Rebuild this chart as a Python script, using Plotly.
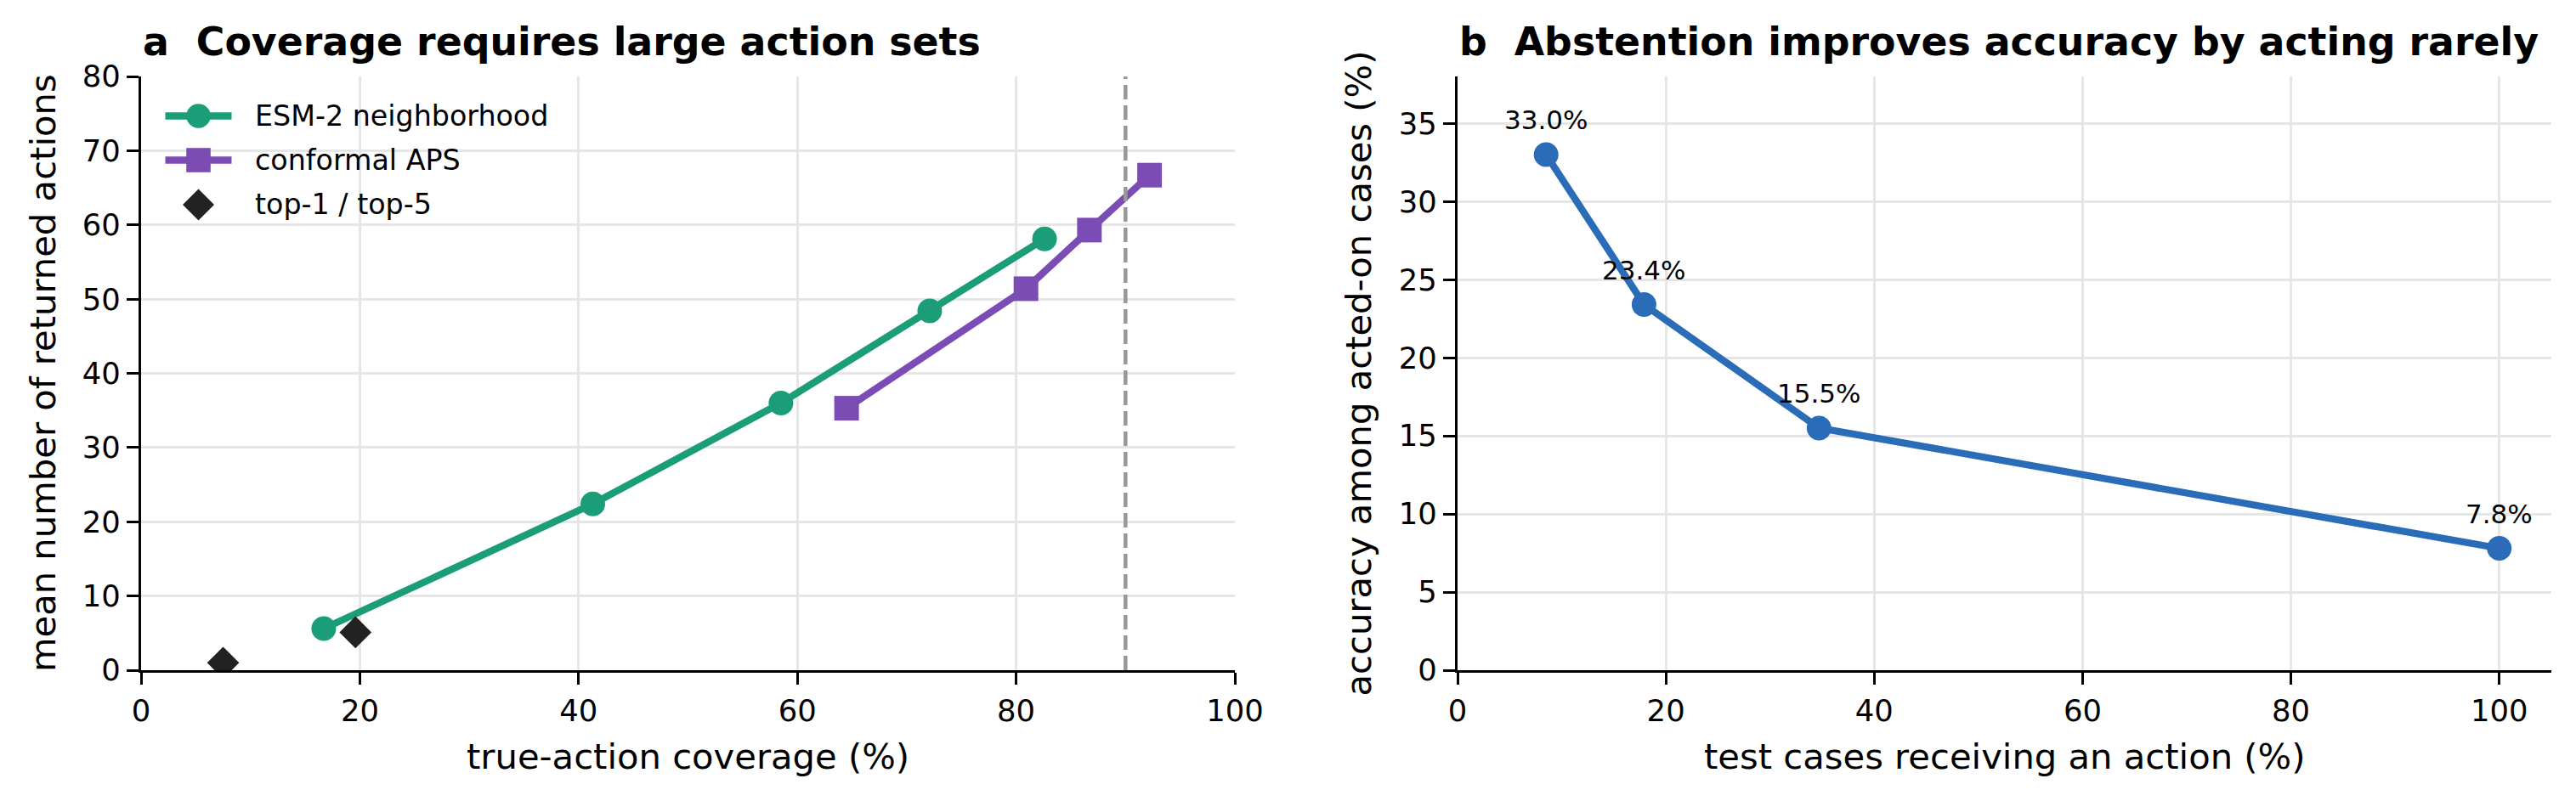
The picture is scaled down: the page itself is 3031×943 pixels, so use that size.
import plotly.graph_objects as go

# ---------------- data ----------------
esm_cov = [16.7, 41.3, 58.5, 72.1, 82.6]
esm_size = [5.6, 22.4, 36.0, 48.4, 58.1]
aps_cov = [64.5, 80.9, 86.7, 92.2]
aps_size = [35.3, 51.4, 59.3, 66.7]
topk_cov = [7.5, 19.6]
topk_size = [1.0, 5.1]
target_coverage = 90

acted_pct = [8.5, 17.9, 34.7, 100.0]
acted_acc = [33.0, 23.4, 15.5, 7.8]
acc_labels = [f"{v:.1f}%" for v in acted_acc]

series_names = ["ESM-2 neighborhood", "conformal APS", "top-1 / top-5"]

# ---------------- style ----------------
W, H = 3031, 943
FONT = "DejaVu Sans"
GREEN = "#1b9e77"
PURPLE = "#7b4db4"
BLUE = "#2b6cb8"
DARK = "#222222"
GRID = "#e6e6e6"
LW = 8.3
MS = 29

L1, R1 = 166 / W, 1453 / W
L2, R2 = 1715 / W, 3002 / W
B, T = 1 - 789 / H, 1 - 90 / H

fig = go.Figure()

fig.add_trace(go.Scatter(
    x=esm_cov, y=esm_size, mode="lines+markers", name=series_names[0], showlegend=False,
    line=dict(color=GREEN, width=LW), marker=dict(symbol="circle", size=MS, color=GREEN),
    xaxis="x", yaxis="y"))
fig.add_trace(go.Scatter(
    x=aps_cov, y=aps_size, mode="lines+markers", name=series_names[1], showlegend=False,
    line=dict(color=PURPLE, width=LW), marker=dict(symbol="square", size=MS, color=PURPLE),
    xaxis="x", yaxis="y"))
fig.add_trace(go.Scatter(
    x=topk_cov, y=topk_size, mode="markers", name=series_names[2], showlegend=False,
    marker=dict(symbol="diamond", size=MS, color=DARK),
    xaxis="x", yaxis="y"))

fig.add_trace(go.Scatter(
    x=acted_pct, y=acted_acc, mode="lines+markers", showlegend=False,
    line=dict(color=BLUE, width=LW), marker=dict(symbol="circle", size=MS, color=BLUE),
    xaxis="x2", yaxis="y2"))

fig.add_shape(type="line", xref="x", yref="y domain", x0=target_coverage, x1=target_coverage,
              y0=0, y1=1, line=dict(color="#999999", width=4.6, dash="17px,7px"), layer="above")

for xv, yv, txt in zip(acted_pct, acted_acc, acc_labels):
    fig.add_annotation(x=xv, y=yv, xref="x2", yref="y2", text=txt, showarrow=False,
                       yanchor="bottom", xanchor="center", yshift=21,
                       font=dict(family=FONT, size=31, color="black"))

# ---------------- legend (drawn as layout decoration, matplotlib style) ----------------
leg_cx = 233.5 / W          # centre of legend handle (paper)
leg_text_x = 298 / W        # left of legend labels (paper)
leg_rows = [1 - 136.5 / H, 1 - 188.5 / H, 1 - 241 / H]
half_line = 39              # px, half length of handle line
r = 14.3                    # px, marker half size

def pix_shape(kind, yc, color, x0, x1, y0, y1, **kw):
    fig.add_shape(type=kind, xref="paper", yref="paper", xsizemode="pixel", ysizemode="pixel",
                  xanchor=leg_cx, yanchor=yc, x0=x0, x1=x1, y0=y0, y1=y1, **kw)

# ESM-2
pix_shape("line", leg_rows[0], GREEN, -half_line, half_line, 0, 0, line=dict(color=GREEN, width=LW))
pix_shape("circle", leg_rows[0], GREEN, -r, r, -r, r, fillcolor=GREEN, line=dict(width=0))
# APS
pix_shape("line", leg_rows[1], PURPLE, -half_line, half_line, 0, 0, line=dict(color=PURPLE, width=LW))
pix_shape("rect", leg_rows[1], PURPLE, -r, r, -r, r, fillcolor=PURPLE, line=dict(width=0))
# top-k diamond
d = 18.5
fig.add_shape(type="path", xref="paper", yref="paper", xsizemode="pixel", ysizemode="pixel",
              xanchor=leg_cx, yanchor=leg_rows[2],
              path=f"M0,{d} L{d},0 L0,{-d} L{-d},0 Z", fillcolor=DARK, line=dict(width=0))

for name, yc in zip(series_names, leg_rows):
    fig.add_annotation(text=name, x=leg_text_x, y=yc, xref="paper", yref="paper", showarrow=False,
                       xanchor="left", yanchor="middle",
                       font=dict(family=FONT, size=33.3, color="black"))

axis_common = dict(
    showline=True, linecolor="black", linewidth=3.3, mirror=False,
    ticks="outside", ticklen=14, tickwidth=3.3, tickcolor="black",
    showgrid=True, gridcolor=GRID, gridwidth=2.5, zeroline=False,
    tickfont=dict(family=FONT, size=35.4, color="black"), automargin=False,
)

fig.update_layout(
    width=W, height=H, margin=dict(l=0, r=0, t=0, b=0),
    paper_bgcolor="white", plot_bgcolor="white",
    font=dict(family=FONT, color="black"),
    xaxis=dict(domain=[L1, R1], range=[0, 100], tickvals=[0, 20, 40, 60, 80, 100], anchor="y", **axis_common),
    yaxis=dict(domain=[B, T], range=[0, 80], tickvals=[0, 10, 20, 30, 40, 50, 60, 70, 80], anchor="x", **axis_common),
    xaxis2=dict(domain=[L2, R2], range=[0, 105], tickvals=[0, 20, 40, 60, 80, 100], anchor="y2", **axis_common),
    yaxis2=dict(domain=[B, T], range=[0, 38], tickvals=[0, 5, 10, 15, 20, 25, 30, 35], anchor="x2", **axis_common),
    showlegend=False,
)

def ann(text, x, y, size, bold=False, xanchor="center", yanchor="middle", angle=0):
    fig.add_annotation(text=f"<b>{text}</b>" if bold else text, x=x, y=y, xref="paper", yref="paper",
                       showarrow=False, xanchor=xanchor, yanchor=yanchor, textangle=angle,
                       font=dict(family=FONT, size=size, color="black"))

ann("a  Coverage requires large action sets", L1, 1 - 49 / H, 45.8, bold=True, xanchor="left")
ann("b  Abstention improves accuracy by acting rarely", L2, 1 - 49 / H, 45.8, bold=True, xanchor="left")
ann("true-action coverage (%)", (L1 + R1) / 2, 1 - 890 / H, 41.7)
ann("test cases receiving an action (%)", (L2 + R2) / 2, 1 - 890 / H, 41.7)
ann("mean number of returned actions", 50.6 / W, (B + T) / 2, 41.7, angle=-90)
ann("accuracy among acted-on cases (%)", 1598 / W, (B + T) / 2, 41.7, angle=-90)

fig.write_html("out.html")
